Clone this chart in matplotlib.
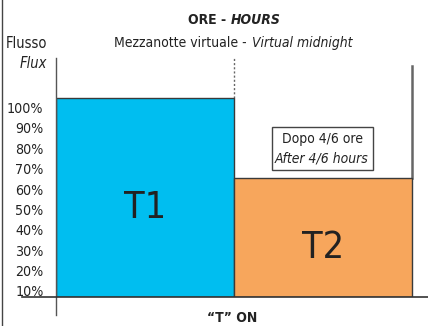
import matplotlib
matplotlib.use('Agg')
import matplotlib.pyplot as plt
from matplotlib.patches import Rectangle

# Tariff bands and their relative flux (in %)
tariffs = ['T1', 'T2']
flux = [104.5, 65.5]
band_start = [0, 1]
band_width = [1, 1]
flux_ticks = [10, 20, 30, 40, 50, 60, 70, 80, 90, 100]
flux_labels = ['%d%%' % v for v in flux_ticks]

BAR_COLORS = ['#00BEF0', '#F7A65C']
EDGE = '#3a3a3a'
TEXT = '#222222'

W, H = 428, 326

plt.rcParams['font.family'] = ['DejaVu Sans']
plt.rcParams['font.stretch'] = 'condensed'


def fx(x):
    return x / W


def fy(y):
    return 1 - y / H


fig = plt.figure(figsize=(W / 100, H / 100), dpi=100)
fig.patch.set_facecolor('white')

# plot area: y axis at x=56px, baseline at y=297px, top at y=58px
ax = fig.add_axes([fx(56), fy(297), fx(W - 56), (297 - 58) / H])
px_per_unit = 2.039
base = 10 - 6 / px_per_unit
top = 10 + (291 - 58) / px_per_unit
ax.set_xlim(0, (W - 56) / 178)
ax.set_ylim(base, top)
for s in ax.spines.values():
    s.set_visible(False)
ax.set_xticks([])
ax.set_yticks(flux_ticks)
ax.set_yticklabels(flux_labels)
ax.tick_params(axis='y', length=0, pad=9, labelsize=10.2, labelcolor=TEXT)

for i in range(len(tariffs)):
    ax.bar(band_start[i], flux[i] - base, bottom=base, width=band_width[i],
           align='edge', color=BAR_COLORS[i], edgecolor=EDGE, linewidth=1,
           zorder=2)
    ax.text(band_start[i] + band_width[i] / 2, (base + flux[i]) / 2 - 5,
            tariffs[i], ha='center', va='center', fontsize=27,
            color=TEXT, zorder=3)

# axes lines
ax.plot([0, 0], [base - 18 / px_per_unit, top], color='#555555', lw=1,
        clip_on=False, zorder=4)
ax.plot([-34 / 178, (W - 56) / 178], [base, base], color='#333333', lw=1.2,
        clip_on=False, zorder=4)

# virtual midnight marker and end of T2
ax.plot([1, 1], [flux[0], top], color='#666666', lw=1, ls=(0, (1.5, 1.5)),
        clip_on=False, zorder=1)
t2_end = band_start[1] + band_width[1]
ax.plot([t2_end, t2_end], [flux[1], 10 + (291 - 66) / px_per_unit],
        color='#666666', lw=1.8, clip_on=False, zorder=1)

# left frame line
fig.add_artist(plt.Line2D([fx(2), fx(2)], [0, 1], color='#444444', lw=1))

# headings
fig.text(fx(231), fy(20), 'ORE - ', ha='right', va='center', fontsize=10,
         fontweight='bold', color=TEXT)
fig.text(fx(231), fy(20), 'HOURS', ha='left', va='center', fontsize=10,
         fontweight='bold', style='italic', color=TEXT)
fig.text(fx(251), fy(43), 'Mezzanotte virtuale - ', ha='right', va='center',
         fontsize=10, color=TEXT)
fig.text(fx(252), fy(43), 'Virtual midnight', ha='left', va='center',
         fontsize=10, style='italic', color=TEXT)
fig.text(fx(47), fy(43), 'Flusso', ha='right', va='center', fontsize=10.5,
         color=TEXT)
fig.text(fx(47), fy(63), 'Flux', ha='right', va='center', fontsize=10.5,
         style='italic', color=TEXT)
fig.text(fx(232), fy(325.5), '\u201cT\u201d ON', ha='center', va='bottom',
         fontsize=10, fontweight='bold', color=TEXT)

# note box over T2
fig.add_artist(Rectangle((fx(272), fy(170)), fx(101), (170 - 127) / H,
                         transform=fig.transFigure, facecolor='white',
                         edgecolor='#444444', lw=1))
fig.text(fx(322), fy(139), 'Dopo 4/6 ore', ha='center', va='center',
         fontsize=10, color=TEXT)
fig.text(fx(322), fy(158), 'After 4/6 hours', ha='center', va='center',
         fontsize=10, style='italic', color=TEXT)

fig.savefig('out.png', dpi=100, facecolor='white')
